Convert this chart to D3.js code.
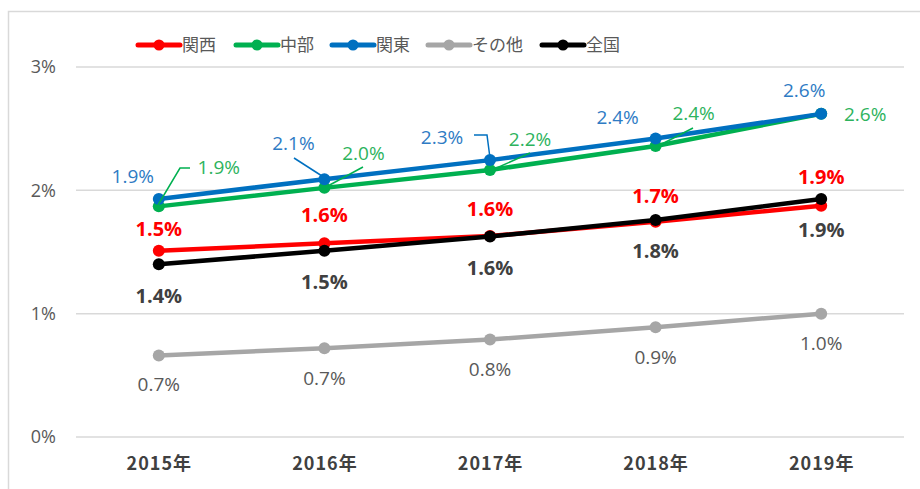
<!DOCTYPE html>
<html><head><meta charset="utf-8">
<script src="https://cdn.jsdelivr.net/npm/d3@7"></script>
<style>body{margin:0;background:#fff}svg{display:block}</style>
</head><body>
<script>
const years = ["2015年","2016年","2017年","2018年","2019年"];
const seriesNames = ["関西","中部","関東","その他","全国"];
const kansai = [1.51, 1.57, 1.63, 1.745, 1.875];
const chubu  = [1.87, 2.02, 2.165, 2.36, 2.62];
const kanto  = [1.93, 2.09, 2.245, 2.42, 2.62];
const other  = [0.66, 0.72, 0.79, 0.89, 1.0];
const zenkoku= [1.40, 1.51, 1.625, 1.76, 1.93];
const kansaiLabels = ["1.5%","1.6%","1.6%","1.7%","1.9%"];
const chubuLabels  = ["1.9%","2.0%","2.2%","2.4%","2.6%"];
const kantoLabels  = ["1.9%","2.1%","2.3%","2.4%","2.6%"];
const otherLabels  = ["0.7%","0.7%","0.8%","0.9%","1.0%"];
const zenkokuLabels= ["1.4%","1.5%","1.6%","1.8%","1.9%"];
const yTicks = [0,1,2,3];

const W=920,H=489;
const svg=d3.select("body").append("svg").attr("width",W).attr("height",H);
const fontJ='"Noto Sans CJK JP","Noto Sans",sans-serif';
const fontN='"Open Sans","Noto Sans",sans-serif';

svg.append("rect").attr("x",8.5).attr("y",11.5).attr("width",W).attr("height",H)
  .attr("fill","#fff").attr("stroke","#d9d9d9").attr("stroke-width",1.5);

const x=d3.scalePoint().domain(years).range([76,904]).padding(0.5);
const y=d3.scaleLinear().domain([0,3]).range([437,67]);

svg.append("g").selectAll("line").data(yTicks).join("line")
  .attr("x1",76).attr("x2",904).attr("y1",d=>y(d)).attr("y2",d=>y(d))
  .attr("stroke","#d9d9d9").attr("stroke-width",1.5);
svg.append("g").selectAll("text").data(yTicks).join("text")
  .attr("x",56).attr("y",d=>y(d)).attr("dy","0.35em").attr("text-anchor","end")
  .attr("font-family",fontN).attr("font-size",18).attr("fill","#595959")
  .text(d=>d+"%");
const xAxis=d3.axisBottom(x).tickSize(0).tickPadding(0);
const gx=svg.append("g").attr("transform","translate(0,464)").call(xAxis);
gx.select(".domain").remove();
gx.selectAll("text").attr("font-family",fontJ).attr("font-size",18).attr("font-weight","bold")
  .attr("letter-spacing","1px").attr("fill","#404040").attr("dy","0.35em").attr("y",0);

const series=[
  {name:seriesNames[0],vals:kansai,labels:kansaiLabels,color:"#ff0000",lc:"#ff0000",bold:true,
   off:[[0,-22],[0,-28],[0,-27],[0,-26],[0,-29]]},
  {name:seriesNames[1],vals:chubu,labels:chubuLabels,color:"#00b050",lc:"#2db35d",bold:false,
   off:[[60,-39],[39,-35],[40,-31],[38,-33],[44,0]],
   leaders:[[[158,205],[180,168],[190,168]],[[326,187],[363,167]],[[492,170],[530,153]],[[658,146],[693,128]],null]},
  {name:seriesNames[2],vals:kanto,labels:kantoLabels,color:"#0070c0",lc:"#2e7bc4",bold:false,
   off:[[-26,-23],[-31,-36],[-48,-23],[-38,-21],[-17,-24]],
   leaders:[null,[[294,158],[322,176]],[[474,135],[487,135],[490,158]],null,null]},
  {name:seriesNames[3],vals:other,labels:otherLabels,color:"#a6a6a6",lc:"#595959",bold:false,
   off:[[0,29],[0,30],[0,30],[0,30],[0,30]]},
  {name:seriesNames[4],vals:zenkoku,labels:zenkokuLabels,color:"#000000",lc:"#404040",bold:true,
   off:[[0,32],[0,31],[0,31],[0,31],[0,31]]}
];

const line=d3.line().x((d,i)=>x(years[i])).y(d=>y(d));
series.forEach(s=>{
  const g=svg.append("g");
  g.append("path").datum(s.vals).attr("d",line).attr("fill","none")
    .attr("stroke",s.color).attr("stroke-width",4.5).attr("stroke-linejoin","round");
  g.selectAll("circle").data(s.vals).join("circle")
    .attr("cx",(d,i)=>x(years[i])).attr("cy",d=>y(d)).attr("r",6).attr("fill",s.color);
});
series.forEach(s=>{
  const g=svg.append("g");
  if(s.leaders) s.leaders.forEach(p=>{ if(p) g.append("path").attr("d",d3.line()(p))
     .attr("fill","none").attr("stroke",s.color).attr("stroke-width",1.5);});
  g.selectAll("text").data(s.vals).join("text")
    .attr("x",(d,i)=>x(years[i])+s.off[i][0]).attr("y",(d,i)=>y(d)+s.off[i][1])
    .attr("dy","0.35em").attr("text-anchor","middle")
    .attr("font-family",fontN).attr("font-size",s.bold?20:19)
    .attr("font-weight",s.bold?"bold":"normal").attr("fill",s.lc)
    .text((d,i)=>s.labels[i]);
});
const legX=[138,236,332,428,542];
const lg=svg.append("g");
series.forEach((s,i)=>{
  const gx0=legX[i];
  lg.append("line").attr("x1",gx0).attr("x2",gx0+42).attr("y1",45).attr("y2",45)
    .attr("stroke",s.color).attr("stroke-width",5).attr("stroke-linecap","round");
  lg.append("circle").attr("cx",gx0+21).attr("cy",45).attr("r",5.5).attr("fill",s.color);
  lg.append("text").attr("x",gx0+44).attr("y",45).attr("dy","0.35em")
    .attr("font-family",fontJ).attr("font-size",17).attr("fill","#595959").text(s.name);
});
</script>
</body></html>
